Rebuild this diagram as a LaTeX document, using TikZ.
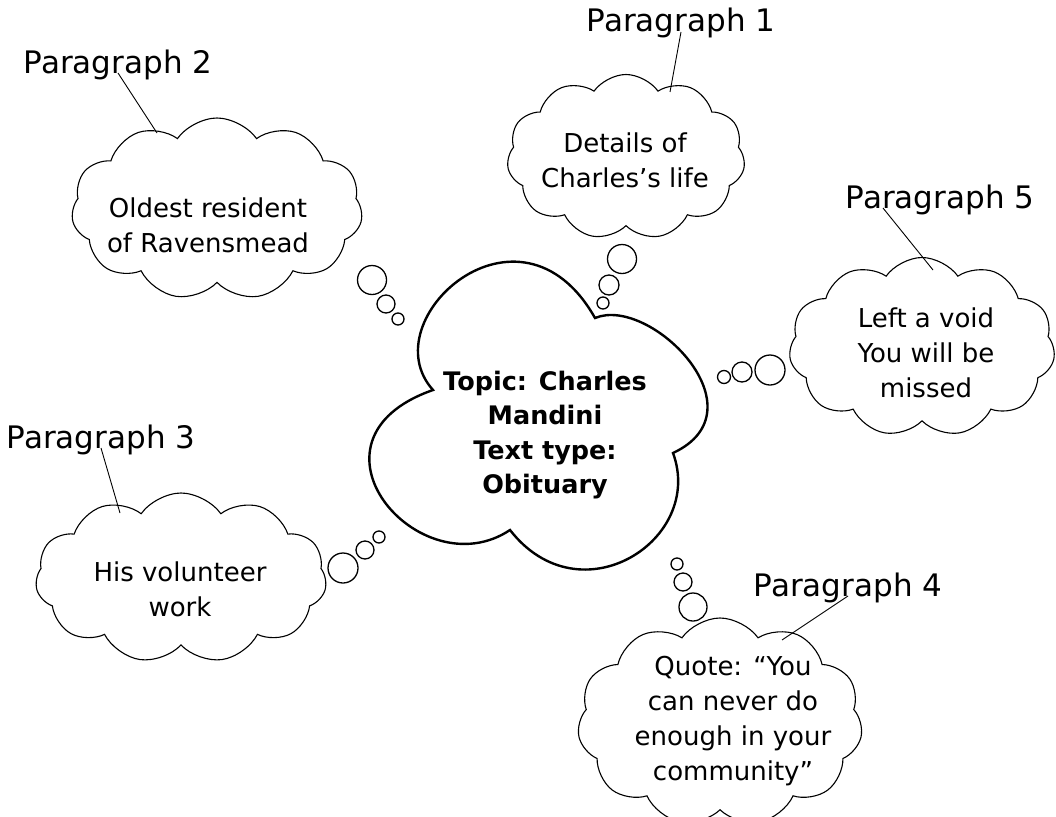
\documentclass[tikz,border=0pt]{standalone}
\usepackage{fontspec}
\setmainfont{DejaVu Sans}
\usetikzlibrary{shapes.symbols}
\tikzset{
    every node/.style={inner sep=0pt},
    idea/.style={cloud, cloud ignores aspect, draw, cloud puffs=11, cloud puff arc=110,
        line width=1.1pt},
    ideatext/.style={align=center, font=\fontsize{26}{35}\selectfont},
    topictext/.style={align=center, font=\bfseries\fontsize{25.5}{34.5}\selectfont},
    bubble/.style={circle, draw, line width=1.3pt},
    para/.style={anchor=base, font=\fontsize{31}{34}\selectfont},
    pointer/.style={line width=0.9pt},
}

\begin{document}
\begin{tikzpicture}[x=1pt, y=-1pt]
    \useasboundingbox (0,0) rectangle (1056,816);

    % main cloud
    \draw[line width=2.4pt, line join=miter]
        (433,390) .. controls (370,320) and (520,185) .. (595,318)
        .. controls (650,295) and (765,410) .. (673,453)
        .. controls (705,540) and (580,620) .. (510,530)
        .. controls (420,590) and (290,440) .. cycle;
    \node (topic) [topictext] at (545,435) {Topic: Charles\\Mandini\\Text type:\\Obituary};

    \node (c1) [idea, minimum width=238pt, minimum height=165pt] at (626,157) {};
    \node (c2) [idea, minimum width=291pt, minimum height=182pt] at (217,209) {};
    \node (c3) [idea, minimum width=291pt, minimum height=170pt] at (181,578) {};
    \node (c4) [idea, minimum width=285pt, minimum height=208pt] at (720,722) {};
    \node (c5) [idea, minimum width=266pt, minimum height=179pt] at (922,347) {};

    \node (t1) [ideatext] at (625,160) {Details of\\Charles’s life};
    \node (t2) [ideatext] at (208,225) {Oldest resident\\of Ravensmead};
    \node (t3) [ideatext] at (180,589) {His volunteer\\work};
    \node (t4) [ideatext] at (733,721) {Quote: “You\\can never do\\enough in your\\community”};
    \node (t5) [ideatext] at (926,353) {Left a void\\You will be\\missed};

    \node (lab1) [para] at (681,32) {Paragraph 1};
    \node (lab2) [para] at (118,73) {Paragraph 2};
    \node (lab3) [para] at (101,448) {Paragraph 3};
    \node (lab4) [para] at (848,596) {Paragraph 4};
    \node (lab5) [para] at (940,208) {Paragraph 5};

    \coordinate (tip1) at (670,92);
    \coordinate (tip2) at (157,133);
    \coordinate (tip3) at (120,513);
    \coordinate (tip4) at (782,640);
    \coordinate (tip5) at (933,270);

    % bubbles
    \node (b11) [bubble, minimum size=29pt] at (622,259) {};
    \node (b12) [bubble, minimum size=20pt] at (609,285) {};
    \node (b13) [bubble, minimum size=12pt] at (603,303) {};
    \node (b21) [bubble, minimum size=29pt] at (372,280) {};
    \node (b22) [bubble, minimum size=18pt] at (386,304) {};
    \node (b23) [bubble, minimum size=12pt] at (398,319) {};
    \node (b31) [bubble, minimum size=30pt] at (343,568) {};
    \node (b32) [bubble, minimum size=18pt] at (365,550) {};
    \node (b33) [bubble, minimum size=12pt] at (379,537) {};
    \node (b41) [bubble, minimum size=12pt] at (677,564) {};
    \node (b42) [bubble, minimum size=18pt] at (683,582) {};
    \node (b43) [bubble, minimum size=28pt] at (693,607) {};
    \node (b51) [bubble, minimum size=13pt] at (724,377) {};
    \node (b52) [bubble, minimum size=20pt] at (742,372) {};
    \node (b53) [bubble, minimum size=30pt] at (770,370) {};

    \draw[pointer] (lab1.base) -- (tip1);
    \draw[pointer] (lab2.base) -- (tip2);
    \draw[pointer] (lab3.base) -- (tip3);
    \draw[pointer] (lab4.base) -- (tip4);
    \draw[pointer] ([xshift=-57pt]lab5.base) -- (tip5);
\end{tikzpicture}
\end{document}
